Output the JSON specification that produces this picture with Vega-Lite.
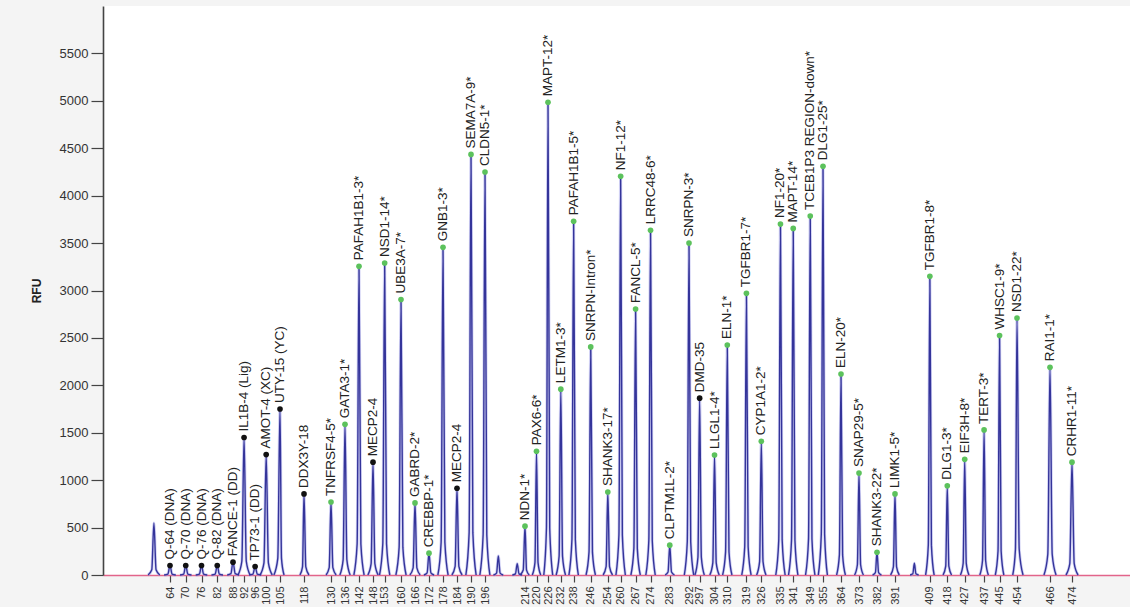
{
  "$schema": "https://vega.github.io/schema/vega-lite/v6.json",
  "width": 1027,
  "height": 569,
  "autosize": {"type": "none"},
  "padding": {"left": 103, "top": 6, "right": 0, "bottom": 32},
  "background": "#f4f4f4",
  "view": {"fill": "white", "stroke": null},
  "config": {"font": "Liberation Sans"},
  "datasets": {
    "peaks": [
      {"size": 58, "rfu": 548},
      {"size": 64, "rfu": 100, "label": "Q-64 (DNA)", "group": "control"},
      {"size": 70, "rfu": 100, "label": "Q-70 (DNA)", "group": "control"},
      {"size": 76, "rfu": 100, "label": "Q-76 (DNA)", "group": "control"},
      {"size": 82, "rfu": 100, "label": "Q-82 (DNA)", "group": "control"},
      {"size": 88, "rfu": 135, "label": "FANCE-1 (DD)", "group": "control"},
      {"size": 92, "rfu": 1450, "label": "IL1B-4 (Lig)", "group": "control"},
      {"size": 96, "rfu": 90, "label": "TP73-1 (DD)", "group": "control"},
      {"size": 100, "rfu": 1270, "label": "AMOT-4 (XC)", "group": "control"},
      {"size": 105, "rfu": 1750, "label": "UTY-15 (YC)", "group": "control"},
      {"size": 118, "rfu": 855, "label": "DDX3Y-18", "group": "control"},
      {"size": 130, "rfu": 770, "label": "TNFRSF4-5*", "group": "target"},
      {"size": 136, "rfu": 1590, "label": "GATA3-1*", "group": "target"},
      {"size": 142, "rfu": 3255, "label": "PAFAH1B1-3*", "group": "target"},
      {"size": 148, "rfu": 1190, "label": "MECP2-4", "group": "control"},
      {"size": 153, "rfu": 3290, "label": "NSD1-14*", "group": "target"},
      {"size": 160, "rfu": 2905, "label": "UBE3A-7*", "group": "target"},
      {"size": 166, "rfu": 760, "label": "GABRD-2*", "group": "target"},
      {"size": 172, "rfu": 230, "label": "CREBBP-1*", "group": "target"},
      {"size": 178, "rfu": 3455, "label": "GNB1-3*", "group": "target"},
      {"size": 184, "rfu": 915, "label": "MECP2-4", "group": "control"},
      {"size": 190, "rfu": 4435, "label": "SEMA7A-9*", "group": "target"},
      {"size": 196, "rfu": 4250, "label": "CLDN5-1*", "group": "target"},
      {"size": 202, "rfu": 200},
      {"size": 210.5, "rfu": 120},
      {"size": 214, "rfu": 515, "label": "NDN-1*", "group": "target"},
      {"size": 220, "rfu": 1305, "label": "PAX6-6*", "group": "target"},
      {"size": 226, "rfu": 4985, "label": "MAPT-12*", "group": "target"},
      {"size": 232, "rfu": 1960, "label": "LETM1-3*", "group": "target"},
      {"size": 238, "rfu": 3730, "label": "PAFAH1B1-5*", "group": "target"},
      {"size": 246, "rfu": 2405, "label": "SNRPN-Intron*", "group": "target"},
      {"size": 254, "rfu": 875, "label": "SHANK3-17*", "group": "target"},
      {"size": 260, "rfu": 4205, "label": "NF1-12*", "group": "target"},
      {"size": 267, "rfu": 2805, "label": "FANCL-5*", "group": "target"},
      {"size": 274, "rfu": 3635, "label": "LRRC48-6*", "group": "target"},
      {"size": 283, "rfu": 315, "label": "CLPTM1L-2*", "group": "target"},
      {"size": 292, "rfu": 3500, "label": "SNRPN-3*", "group": "target"},
      {"size": 297, "rfu": 1865, "label": "DMD-35", "group": "control"},
      {"size": 304, "rfu": 1265, "label": "LLGL1-4*", "group": "target"},
      {"size": 310, "rfu": 2425, "label": "ELN-1*", "group": "target"},
      {"size": 319, "rfu": 2970, "label": "TGFBR1-7*", "group": "target"},
      {"size": 326, "rfu": 1410, "label": "CYP1A1-2*", "group": "target"},
      {"size": 335, "rfu": 3700, "label": "NF1-20*", "group": "target"},
      {"size": 341, "rfu": 3655, "label": "MAPT-14*", "group": "target"},
      {"size": 349, "rfu": 3785, "label": "TCEB1P3 REGION-down*", "group": "target"},
      {"size": 355, "rfu": 4310, "label": "DLG1-25*", "group": "target"},
      {"size": 364, "rfu": 2120, "label": "ELN-20*", "group": "target"},
      {"size": 373, "rfu": 1075, "label": "SNAP29-5*", "group": "target"},
      {"size": 382, "rfu": 240, "label": "SHANK3-22*", "group": "target"},
      {"size": 391, "rfu": 855, "label": "LIMK1-5*", "group": "target"},
      {"size": 401, "rfu": 125},
      {"size": 409, "rfu": 3150, "label": "TGFBR1-8*", "group": "target"},
      {"size": 418, "rfu": 940, "label": "DLG1-3*", "group": "target"},
      {"size": 427, "rfu": 1220, "label": "EIF3H-8*", "group": "target"},
      {"size": 437, "rfu": 1530, "label": "TERT-3*", "group": "target"},
      {"size": 445, "rfu": 2525, "label": "WHSC1-9*", "group": "target"},
      {"size": 454, "rfu": 2710, "label": "NSD1-22*", "group": "target"},
      {"size": 466, "rfu": 2190, "label": "RAI1-1*", "group": "target"},
      {"size": 474, "rfu": 1190, "label": "CRHR1-11*", "group": "target"}
    ],
    "trace": [
      {"peak": 58, "size": 55.8, "rfu": 0}, {"peak": 58, "size": 57.2, "rfu": 55}, {"peak": 58, "size": 58, "rfu": 548}, {"peak": 58, "size": 58.8, "rfu": 55}, {"peak": 58, "size": 60.2, "rfu": 0},
      {"peak": 64, "size": 61.8, "rfu": 0}, {"peak": 64, "size": 63.2, "rfu": 10}, {"peak": 64, "size": 64, "rfu": 100}, {"peak": 64, "size": 64.8, "rfu": 10}, {"peak": 64, "size": 66.2, "rfu": 0},
      {"peak": 70, "size": 67.8, "rfu": 0}, {"peak": 70, "size": 69.2, "rfu": 10}, {"peak": 70, "size": 70, "rfu": 100}, {"peak": 70, "size": 70.8, "rfu": 10}, {"peak": 70, "size": 72.2, "rfu": 0},
      {"peak": 76, "size": 73.8, "rfu": 0}, {"peak": 76, "size": 75.2, "rfu": 10}, {"peak": 76, "size": 76, "rfu": 100}, {"peak": 76, "size": 76.8, "rfu": 10}, {"peak": 76, "size": 78.2, "rfu": 0},
      {"peak": 82, "size": 79.8, "rfu": 0}, {"peak": 82, "size": 81.2, "rfu": 10}, {"peak": 82, "size": 82, "rfu": 100}, {"peak": 82, "size": 82.8, "rfu": 10}, {"peak": 82, "size": 84.2, "rfu": 0},
      {"peak": 88, "size": 85.8, "rfu": 0}, {"peak": 88, "size": 87.2, "rfu": 14}, {"peak": 88, "size": 88, "rfu": 135}, {"peak": 88, "size": 88.8, "rfu": 14}, {"peak": 88, "size": 90.2, "rfu": 0},
      {"peak": 92, "size": 89.8, "rfu": 0}, {"peak": 92, "size": 91.2, "rfu": 145}, {"peak": 92, "size": 92, "rfu": 1450}, {"peak": 92, "size": 92.8, "rfu": 145}, {"peak": 92, "size": 94.2, "rfu": 0},
      {"peak": 96, "size": 93.8, "rfu": 0}, {"peak": 96, "size": 95.2, "rfu": 9}, {"peak": 96, "size": 96, "rfu": 90}, {"peak": 96, "size": 96.8, "rfu": 9}, {"peak": 96, "size": 98.2, "rfu": 0},
      {"peak": 100, "size": 97.8, "rfu": 0}, {"peak": 100, "size": 99.2, "rfu": 127}, {"peak": 100, "size": 100, "rfu": 1270}, {"peak": 100, "size": 100.8, "rfu": 127}, {"peak": 100, "size": 102.2, "rfu": 0},
      {"peak": 105, "size": 102.8, "rfu": 0}, {"peak": 105, "size": 104.2, "rfu": 175}, {"peak": 105, "size": 105, "rfu": 1750}, {"peak": 105, "size": 105.8, "rfu": 175}, {"peak": 105, "size": 107.2, "rfu": 0},
      {"peak": 118, "size": 115.8, "rfu": 0}, {"peak": 118, "size": 117.2, "rfu": 86}, {"peak": 118, "size": 118, "rfu": 855}, {"peak": 118, "size": 118.8, "rfu": 86}, {"peak": 118, "size": 120.2, "rfu": 0},
      {"peak": 130, "size": 127.8, "rfu": 0}, {"peak": 130, "size": 129.2, "rfu": 77}, {"peak": 130, "size": 130, "rfu": 770}, {"peak": 130, "size": 130.8, "rfu": 77}, {"peak": 130, "size": 132.2, "rfu": 0},
      {"peak": 136, "size": 133.8, "rfu": 0}, {"peak": 136, "size": 135.2, "rfu": 159}, {"peak": 136, "size": 136, "rfu": 1590}, {"peak": 136, "size": 136.8, "rfu": 159}, {"peak": 136, "size": 138.2, "rfu": 0},
      {"peak": 142, "size": 139.8, "rfu": 0}, {"peak": 142, "size": 141.2, "rfu": 326}, {"peak": 142, "size": 142, "rfu": 3255}, {"peak": 142, "size": 142.8, "rfu": 326}, {"peak": 142, "size": 144.2, "rfu": 0},
      {"peak": 148, "size": 145.8, "rfu": 0}, {"peak": 148, "size": 147.2, "rfu": 119}, {"peak": 148, "size": 148, "rfu": 1190}, {"peak": 148, "size": 148.8, "rfu": 119}, {"peak": 148, "size": 150.2, "rfu": 0},
      {"peak": 153, "size": 150.8, "rfu": 0}, {"peak": 153, "size": 152.2, "rfu": 329}, {"peak": 153, "size": 153, "rfu": 3290}, {"peak": 153, "size": 153.8, "rfu": 329}, {"peak": 153, "size": 155.2, "rfu": 0},
      {"peak": 160, "size": 157.8, "rfu": 0}, {"peak": 160, "size": 159.2, "rfu": 291}, {"peak": 160, "size": 160, "rfu": 2905}, {"peak": 160, "size": 160.8, "rfu": 291}, {"peak": 160, "size": 162.2, "rfu": 0},
      {"peak": 166, "size": 163.8, "rfu": 0}, {"peak": 166, "size": 165.2, "rfu": 76}, {"peak": 166, "size": 166, "rfu": 760}, {"peak": 166, "size": 166.8, "rfu": 76}, {"peak": 166, "size": 168.2, "rfu": 0},
      {"peak": 172, "size": 169.8, "rfu": 0}, {"peak": 172, "size": 171.2, "rfu": 23}, {"peak": 172, "size": 172, "rfu": 230}, {"peak": 172, "size": 172.8, "rfu": 23}, {"peak": 172, "size": 174.2, "rfu": 0},
      {"peak": 178, "size": 175.8, "rfu": 0}, {"peak": 178, "size": 177.2, "rfu": 346}, {"peak": 178, "size": 178, "rfu": 3455}, {"peak": 178, "size": 178.8, "rfu": 346}, {"peak": 178, "size": 180.2, "rfu": 0},
      {"peak": 184, "size": 181.8, "rfu": 0}, {"peak": 184, "size": 183.2, "rfu": 92}, {"peak": 184, "size": 184, "rfu": 915}, {"peak": 184, "size": 184.8, "rfu": 92}, {"peak": 184, "size": 186.2, "rfu": 0},
      {"peak": 190, "size": 187.8, "rfu": 0}, {"peak": 190, "size": 189.2, "rfu": 444}, {"peak": 190, "size": 190, "rfu": 4435}, {"peak": 190, "size": 190.8, "rfu": 444}, {"peak": 190, "size": 192.2, "rfu": 0},
      {"peak": 196, "size": 193.8, "rfu": 0}, {"peak": 196, "size": 195.2, "rfu": 425}, {"peak": 196, "size": 196, "rfu": 4250}, {"peak": 196, "size": 196.8, "rfu": 425}, {"peak": 196, "size": 198.2, "rfu": 0},
      {"peak": 202, "size": 199.8, "rfu": 0}, {"peak": 202, "size": 201.2, "rfu": 20}, {"peak": 202, "size": 202, "rfu": 200}, {"peak": 202, "size": 202.8, "rfu": 20}, {"peak": 202, "size": 204.2, "rfu": 0},
      {"peak": 210.5, "size": 208.3, "rfu": 0}, {"peak": 210.5, "size": 209.7, "rfu": 12}, {"peak": 210.5, "size": 210.5, "rfu": 120}, {"peak": 210.5, "size": 211.3, "rfu": 12}, {"peak": 210.5, "size": 212.7, "rfu": 0},
      {"peak": 214, "size": 211.8, "rfu": 0}, {"peak": 214, "size": 213.2, "rfu": 52}, {"peak": 214, "size": 214, "rfu": 515}, {"peak": 214, "size": 214.8, "rfu": 52}, {"peak": 214, "size": 216.2, "rfu": 0},
      {"peak": 220, "size": 217.8, "rfu": 0}, {"peak": 220, "size": 219.2, "rfu": 131}, {"peak": 220, "size": 220, "rfu": 1305}, {"peak": 220, "size": 220.8, "rfu": 131}, {"peak": 220, "size": 222.2, "rfu": 0},
      {"peak": 226, "size": 223.8, "rfu": 0}, {"peak": 226, "size": 225.2, "rfu": 499}, {"peak": 226, "size": 226, "rfu": 4985}, {"peak": 226, "size": 226.8, "rfu": 499}, {"peak": 226, "size": 228.2, "rfu": 0},
      {"peak": 232, "size": 229.8, "rfu": 0}, {"peak": 232, "size": 231.2, "rfu": 196}, {"peak": 232, "size": 232, "rfu": 1960}, {"peak": 232, "size": 232.8, "rfu": 196}, {"peak": 232, "size": 234.2, "rfu": 0},
      {"peak": 238, "size": 235.8, "rfu": 0}, {"peak": 238, "size": 237.2, "rfu": 373}, {"peak": 238, "size": 238, "rfu": 3730}, {"peak": 238, "size": 238.8, "rfu": 373}, {"peak": 238, "size": 240.2, "rfu": 0},
      {"peak": 246, "size": 243.8, "rfu": 0}, {"peak": 246, "size": 245.2, "rfu": 241}, {"peak": 246, "size": 246, "rfu": 2405}, {"peak": 246, "size": 246.8, "rfu": 241}, {"peak": 246, "size": 248.2, "rfu": 0},
      {"peak": 254, "size": 251.8, "rfu": 0}, {"peak": 254, "size": 253.2, "rfu": 88}, {"peak": 254, "size": 254, "rfu": 875}, {"peak": 254, "size": 254.8, "rfu": 88}, {"peak": 254, "size": 256.2, "rfu": 0},
      {"peak": 260, "size": 257.8, "rfu": 0}, {"peak": 260, "size": 259.2, "rfu": 421}, {"peak": 260, "size": 260, "rfu": 4205}, {"peak": 260, "size": 260.8, "rfu": 421}, {"peak": 260, "size": 262.2, "rfu": 0},
      {"peak": 267, "size": 264.8, "rfu": 0}, {"peak": 267, "size": 266.2, "rfu": 281}, {"peak": 267, "size": 267, "rfu": 2805}, {"peak": 267, "size": 267.8, "rfu": 281}, {"peak": 267, "size": 269.2, "rfu": 0},
      {"peak": 274, "size": 271.8, "rfu": 0}, {"peak": 274, "size": 273.2, "rfu": 364}, {"peak": 274, "size": 274, "rfu": 3635}, {"peak": 274, "size": 274.8, "rfu": 364}, {"peak": 274, "size": 276.2, "rfu": 0},
      {"peak": 283, "size": 280.8, "rfu": 0}, {"peak": 283, "size": 282.2, "rfu": 32}, {"peak": 283, "size": 283, "rfu": 315}, {"peak": 283, "size": 283.8, "rfu": 32}, {"peak": 283, "size": 285.2, "rfu": 0},
      {"peak": 292, "size": 289.8, "rfu": 0}, {"peak": 292, "size": 291.2, "rfu": 350}, {"peak": 292, "size": 292, "rfu": 3500}, {"peak": 292, "size": 292.8, "rfu": 350}, {"peak": 292, "size": 294.2, "rfu": 0},
      {"peak": 297, "size": 294.8, "rfu": 0}, {"peak": 297, "size": 296.2, "rfu": 187}, {"peak": 297, "size": 297, "rfu": 1865}, {"peak": 297, "size": 297.8, "rfu": 187}, {"peak": 297, "size": 299.2, "rfu": 0},
      {"peak": 304, "size": 301.8, "rfu": 0}, {"peak": 304, "size": 303.2, "rfu": 127}, {"peak": 304, "size": 304, "rfu": 1265}, {"peak": 304, "size": 304.8, "rfu": 127}, {"peak": 304, "size": 306.2, "rfu": 0},
      {"peak": 310, "size": 307.8, "rfu": 0}, {"peak": 310, "size": 309.2, "rfu": 243}, {"peak": 310, "size": 310, "rfu": 2425}, {"peak": 310, "size": 310.8, "rfu": 243}, {"peak": 310, "size": 312.2, "rfu": 0},
      {"peak": 319, "size": 316.8, "rfu": 0}, {"peak": 319, "size": 318.2, "rfu": 297}, {"peak": 319, "size": 319, "rfu": 2970}, {"peak": 319, "size": 319.8, "rfu": 297}, {"peak": 319, "size": 321.2, "rfu": 0},
      {"peak": 326, "size": 323.8, "rfu": 0}, {"peak": 326, "size": 325.2, "rfu": 141}, {"peak": 326, "size": 326, "rfu": 1410}, {"peak": 326, "size": 326.8, "rfu": 141}, {"peak": 326, "size": 328.2, "rfu": 0},
      {"peak": 335, "size": 332.8, "rfu": 0}, {"peak": 335, "size": 334.2, "rfu": 370}, {"peak": 335, "size": 335, "rfu": 3700}, {"peak": 335, "size": 335.8, "rfu": 370}, {"peak": 335, "size": 337.2, "rfu": 0},
      {"peak": 341, "size": 338.8, "rfu": 0}, {"peak": 341, "size": 340.2, "rfu": 366}, {"peak": 341, "size": 341, "rfu": 3655}, {"peak": 341, "size": 341.8, "rfu": 366}, {"peak": 341, "size": 343.2, "rfu": 0},
      {"peak": 349, "size": 346.8, "rfu": 0}, {"peak": 349, "size": 348.2, "rfu": 379}, {"peak": 349, "size": 349, "rfu": 3785}, {"peak": 349, "size": 349.8, "rfu": 379}, {"peak": 349, "size": 351.2, "rfu": 0},
      {"peak": 355, "size": 352.8, "rfu": 0}, {"peak": 355, "size": 354.2, "rfu": 431}, {"peak": 355, "size": 355, "rfu": 4310}, {"peak": 355, "size": 355.8, "rfu": 431}, {"peak": 355, "size": 357.2, "rfu": 0},
      {"peak": 364, "size": 361.8, "rfu": 0}, {"peak": 364, "size": 363.2, "rfu": 212}, {"peak": 364, "size": 364, "rfu": 2120}, {"peak": 364, "size": 364.8, "rfu": 212}, {"peak": 364, "size": 366.2, "rfu": 0},
      {"peak": 373, "size": 370.8, "rfu": 0}, {"peak": 373, "size": 372.2, "rfu": 108}, {"peak": 373, "size": 373, "rfu": 1075}, {"peak": 373, "size": 373.8, "rfu": 108}, {"peak": 373, "size": 375.2, "rfu": 0},
      {"peak": 382, "size": 379.8, "rfu": 0}, {"peak": 382, "size": 381.2, "rfu": 24}, {"peak": 382, "size": 382, "rfu": 240}, {"peak": 382, "size": 382.8, "rfu": 24}, {"peak": 382, "size": 384.2, "rfu": 0},
      {"peak": 391, "size": 388.8, "rfu": 0}, {"peak": 391, "size": 390.2, "rfu": 86}, {"peak": 391, "size": 391, "rfu": 855}, {"peak": 391, "size": 391.8, "rfu": 86}, {"peak": 391, "size": 393.2, "rfu": 0},
      {"peak": 401, "size": 398.8, "rfu": 0}, {"peak": 401, "size": 400.2, "rfu": 13}, {"peak": 401, "size": 401, "rfu": 125}, {"peak": 401, "size": 401.8, "rfu": 13}, {"peak": 401, "size": 403.2, "rfu": 0},
      {"peak": 409, "size": 406.8, "rfu": 0}, {"peak": 409, "size": 408.2, "rfu": 315}, {"peak": 409, "size": 409, "rfu": 3150}, {"peak": 409, "size": 409.8, "rfu": 315}, {"peak": 409, "size": 411.2, "rfu": 0},
      {"peak": 418, "size": 415.8, "rfu": 0}, {"peak": 418, "size": 417.2, "rfu": 94}, {"peak": 418, "size": 418, "rfu": 940}, {"peak": 418, "size": 418.8, "rfu": 94}, {"peak": 418, "size": 420.2, "rfu": 0},
      {"peak": 427, "size": 424.8, "rfu": 0}, {"peak": 427, "size": 426.2, "rfu": 122}, {"peak": 427, "size": 427, "rfu": 1220}, {"peak": 427, "size": 427.8, "rfu": 122}, {"peak": 427, "size": 429.2, "rfu": 0},
      {"peak": 437, "size": 434.8, "rfu": 0}, {"peak": 437, "size": 436.2, "rfu": 153}, {"peak": 437, "size": 437, "rfu": 1530}, {"peak": 437, "size": 437.8, "rfu": 153}, {"peak": 437, "size": 439.2, "rfu": 0},
      {"peak": 445, "size": 442.8, "rfu": 0}, {"peak": 445, "size": 444.2, "rfu": 253}, {"peak": 445, "size": 445, "rfu": 2525}, {"peak": 445, "size": 445.8, "rfu": 253}, {"peak": 445, "size": 447.2, "rfu": 0},
      {"peak": 454, "size": 451.8, "rfu": 0}, {"peak": 454, "size": 453.2, "rfu": 271}, {"peak": 454, "size": 454, "rfu": 2710}, {"peak": 454, "size": 454.8, "rfu": 271}, {"peak": 454, "size": 456.2, "rfu": 0},
      {"peak": 466, "size": 463.8, "rfu": 0}, {"peak": 466, "size": 465.2, "rfu": 219}, {"peak": 466, "size": 466, "rfu": 2190}, {"peak": 466, "size": 466.8, "rfu": 219}, {"peak": 466, "size": 468.2, "rfu": 0},
      {"peak": 474, "size": 471.8, "rfu": 0}, {"peak": 474, "size": 473.2, "rfu": 119}, {"peak": 474, "size": 474, "rfu": 1190}, {"peak": 474, "size": 474.8, "rfu": 119}, {"peak": 474, "size": 476.2, "rfu": 0}
    ]
  },
  "encoding": {
    "x": {
      "field": "size",
      "type": "quantitative",
      "scale": {
        "domain": [39, 64, 88, 105, 118, 130, 196, 214, 226, 292, 355, 391, 454, 474, 495],
        "range": [0, 67, 130, 177, 201, 228, 382, 422, 445, 586, 720, 792, 914, 969, 1027],
        "nice": false,
        "zero": false
      },
      "axis": {
        "title": null,
        "grid": false,
        "values": [64, 70, 76, 82, 88, 92, 96, 100, 105, 118, 130, 136, 142, 148, 153, 160, 166, 172, 178, 184, 190, 196, 214, 220, 226, 232, 238, 246, 254, 260, 267, 274, 283, 292, 297, 304, 310, 319, 326, 335, 341, 349, 355, 364, 373, 382, 391, 409, 418, 427, 437, 445, 454, 466, 474],
        "labelAngle": 270,
        "labelOverlap": false,
        "labelFlush": false,
        "labelBound": false,
        "labelFontSize": 11,
        "labelColor": "#333333",
        "labelPadding": 4,
        "tickSize": 7,
        "tickColor": "#444444",
        "tickWidth": 1.2,
        "domainColor": "#e2648a",
        "domainWidth": 1.5
      }
    },
    "y": {
      "field": "rfu",
      "type": "quantitative",
      "scale": {"domain": [0, 6000], "nice": false},
      "axis": {
        "title": "RFU",
        "titleFontSize": 12,
        "titleFontWeight": "bold",
        "titleColor": "#222222",
        "titlePadding": 16,
        "grid": false,
        "format": "d",
        "values": [0, 500, 1000, 1500, 2000, 2500, 3000, 3500, 4000, 4500, 5000, 5500],
        "labelFontSize": 13,
        "labelColor": "#333333",
        "labelPadding": 3,
        "tickSize": 12,
        "tickColor": "#444444",
        "tickWidth": 1.2,
        "domainColor": "#444444",
        "domainWidth": 1.6
      }
    }
  },
  "layer": [
    {
      "data": {"name": "trace"},
      "mark": {"type": "line", "interpolate": "monotone", "stroke": "#9a9ae6", "strokeWidth": 3, "opacity": 0.45},
      "encoding": {"detail": {"field": "peak"}}
    },
    {
      "data": {"name": "trace"},
      "mark": {"type": "line", "interpolate": "monotone", "stroke": "#34349a", "strokeWidth": 1.4},
      "encoding": {"detail": {"field": "peak"}}
    },
    {
      "data": {"name": "peaks"},
      "transform": [{"filter": "isValid(datum.label)"}],
      "mark": {"type": "point", "filled": true, "size": 32, "opacity": 1},
      "encoding": {
        "color": {
          "field": "group",
          "type": "nominal",
          "scale": {"domain": ["target", "control"], "range": ["#5cc25c", "#111111"]},
          "legend": null
        }
      }
    },
    {
      "data": {"name": "peaks"},
      "transform": [{"filter": "isValid(datum.label)"}],
      "mark": {"type": "text", "angle": 270, "align": "left", "baseline": "middle", "dx": 6, "fontSize": 13.5, "color": "#222222"},
      "encoding": {"text": {"field": "label"}}
    }
  ]
}
